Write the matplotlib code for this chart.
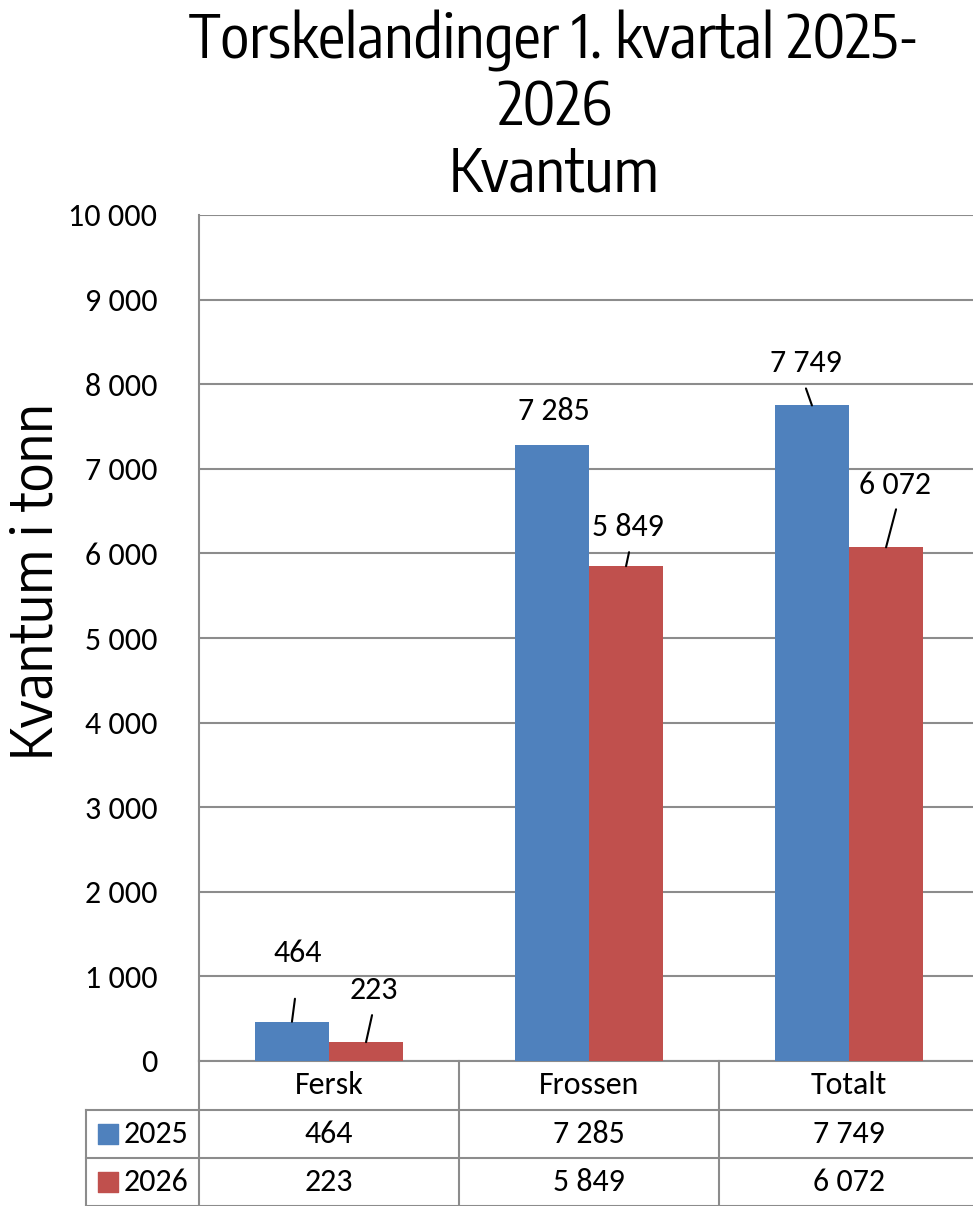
"""Torskelandinger 1. kvartal 2025-2026, kvantum (bar chart with data table)."""

import matplotlib

matplotlib.use("Agg")
import matplotlib.pyplot as plt
import numpy as np

CATEGORIES = ["Fersk", "Frossen", "Totalt"]
YEARS = ["2025", "2026"]
VALUES_2025 = [464, 7285, 7749]
VALUES_2026 = [223, 5849, 6072]
YTICKS = [0, 1000, 2000, 3000, 4000, 5000, 6000, 7000, 8000, 9000, 10000]
TITLE_LINES = ["Torskelandinger 1. kvartal 2025-", "2026", "Kvantum"]

COLORS = ["#4F81BD", "#C0504D"]
GRID = "#8C8C8C"
W, H = 973, 1206

# label offsets (pixels, relative to bar top centre) and leader line tops
LABEL_OFFSETS = [[(6, -69), (2, -34), (-6, -42)],
                 [(8, -52), (2, -39), (9, -62)]]
LEADERS = [[(3, -23), None, (-6, -17)],
           [(6, -27), (3, -14), (10, -38)]]

FONT = ["Carlito", "Lato", "DejaVu Sans"]
TITLE_FONT = ["Encode Sans Condensed", "Roboto Condensed", "DejaVu Sans"]
YLAB_FONT = ["Encode Sans Semi Condensed", "Encode Sans Condensed", "DejaVu Sans"]
FS = 23


def fmt(v):
    return f"{v:,}".replace(",", " ")


def main():
    plt.rcParams["font.family"] = FONT
    fig = plt.figure(figsize=(W / 100, H / 100), dpi=100)
    ax = fig.add_axes([199 / W, (H - 1061) / H, (979 - 199) / W, (1061 - 215) / H])

    x = np.arange(len(CATEGORIES))
    bw = 0.285
    series = [VALUES_2025, VALUES_2026]
    for i, vals in enumerate(series):
        xs = x + (i - 0.5) * bw
        ax.bar(xs, vals, width=bw, color=COLORS[i], zorder=3)
        for j, (xv, v) in enumerate(zip(xs, vals)):
            dx, dy = LABEL_OFFSETS[i][j]
            ax.annotate(fmt(v), xy=(xv, v), xytext=(dx, -dy), textcoords="offset pixels",
                        ha="center", va="center", fontsize=FS, zorder=5)
            if LEADERS[i][j] is not None:
                lx, ly = LEADERS[i][j]
                ax.annotate("", xy=(xv, v), xytext=(lx, -ly), textcoords="offset pixels",
                            arrowprops=dict(arrowstyle="-", lw=1.5, color="black",
                                            shrinkA=0, shrinkB=0), zorder=5)

    ax.set_xlim(-0.5, len(CATEGORIES) - 0.5)
    ax.set_ylim(0, 10000)
    ax.set_yticks(YTICKS)
    ax.set_yticklabels([fmt(t) for t in YTICKS], fontsize=FS)
    ax.tick_params(axis="y", length=0, pad=30)
    ax.set_xticks([])
    ax.grid(axis="y", color=GRID, lw=1.5, zorder=0)
    for s in ["top", "right", "bottom"]:
        ax.spines[s].set_visible(False)
    ax.spines["left"].set_color(GRID)
    ax.spines["left"].set_linewidth(1.5)

    # data table below the axis
    tr = ax.get_xaxis_transform()
    rows = [0.0, -49 / 846, -97 / 846, -145 / 846]
    left = -0.5 - 113 / 260
    kw = dict(transform=tr, clip_on=False, color=GRID, lw=1.5)
    ax.plot([-0.5, 2.5], [rows[0]] * 2, **kw)
    for r in rows[1:]:
        ax.plot([left, 2.5], [r, r], **kw)
    for b in np.arange(len(CATEGORIES) + 1) - 0.5:
        ax.plot([b, b], [rows[0], rows[-1]], **kw)
    ax.plot([left, left], [rows[1], rows[-1]], **kw)

    for j, cat in enumerate(CATEGORIES):
        ax.text(j, (rows[0] + rows[1]) / 2, cat, transform=tr, ha="center",
                va="center", fontsize=FS)
        for i, vals in enumerate(series):
            ax.text(j, (rows[i + 1] + rows[i + 2]) / 2, fmt(vals[j]), transform=tr,
                    ha="center", va="center", fontsize=FS)
    for i, year in enumerate(YEARS):
        yc = (rows[i + 1] + rows[i + 2]) / 2
        ax.scatter([left + 0.083], [yc], transform=tr, marker="s", s=190,
                   color=COLORS[i], clip_on=False, zorder=5)
        ax.text(left + 0.146, yc, year, transform=tr, ha="left", va="center",
                fontsize=FS)

    for line, base in zip(TITLE_LINES, [59, 125, 192]):
        fig.text(554 / W, 1 - base / H, line, ha="center", va="baseline",
                 fontsize=43.5, family=TITLE_FONT)
    fig.text(36 / W, 1 - 582 / H, "Kvantum i tonn", rotation=90, ha="center",
             va="center", fontsize=40.5, family=YLAB_FONT)

    fig.savefig("out.png", dpi=100)


if __name__ == "__main__":
    main()
